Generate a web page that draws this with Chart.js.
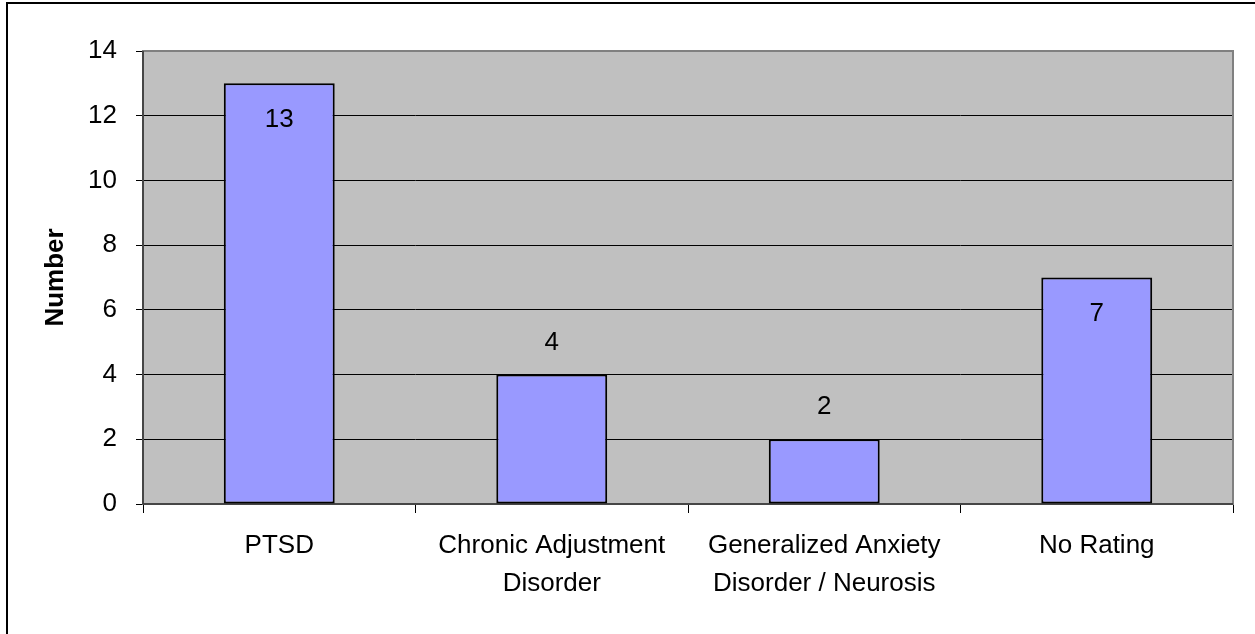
<!DOCTYPE html>
<html>
<head>
<meta charset="utf-8">
<script src="https://cdn.jsdelivr.net/npm/chart.js@4.4.1/dist/chart.umd.min.js"></script>
<style>
  html, body { margin: 0; padding: 0; background: #fff; overflow: hidden; }
  #wrap { position: relative; width: 1255px; height: 634px; }
  #frame { position: absolute; left: 6px; top: 2px; width: 1300px; height: 700px; border: 2px solid #000; pointer-events: none; }
  canvas { position: absolute; left: 0; top: 0; }
</style>
</head>
<body>
<div id="wrap">
  <div id="frame"></div>
  <canvas id="c" width="1255" height="634"></canvas>
</div>
<script>
const categories = [
  ['PTSD'],
  ['Chronic Adjustment', 'Disorder'],
  ['Generalized Anxiety', 'Disorder / Neurosis'],
  ['No Rating']
];
const counts = [13, 4, 2, 7];
const yMin = 0;
const yMax = 14;
const yStep = 2;
const yAxisTitle = 'Number';
const labelPlacement = ['inside', 'outside', 'outside', 'inside'];

const FONT = '"Liberation Sans", Arial, sans-serif';

const plotPlugin = {
  id: 'plotPlugin',
  beforeDraw(chart) {
    const { ctx, chartArea: a } = chart;
    ctx.save();
    ctx.fillStyle = '#C0C0C0';
    ctx.fillRect(a.left, a.top, a.right - a.left, a.bottom - a.top);
    ctx.restore();
  },
  beforeDatasetsDraw(chart) {
    const { ctx, chartArea: a } = chart;
    ctx.save();
    ctx.strokeStyle = '#808080';
    ctx.lineWidth = 2;
    ctx.strokeRect(a.left, a.top, a.right - a.left, a.bottom - a.top);
    ctx.strokeStyle = '#333';
    ctx.lineWidth = 1.5;
    ctx.beginPath();
    ctx.moveTo(a.left, a.top);
    ctx.lineTo(a.left, a.bottom);
    ctx.lineTo(a.right, a.bottom);
    ctx.stroke();
    ctx.restore();
  },
  afterDatasetsDraw(chart) {
    const { ctx } = chart;
    const meta = chart.getDatasetMeta(0);
    ctx.save();
    ctx.fillStyle = '#000';
    ctx.font = '26px ' + FONT;
    ctx.textAlign = 'center';
    ctx.textBaseline = 'middle';
    meta.data.forEach((bar, i) => {
      const inside = labelPlacement[i] === 'inside';
      const y = inside ? bar.y + 36 : bar.y - 32;
      ctx.fillText(String(counts[i]), bar.x, y);
    });
    ctx.restore();
  }
};

new Chart(document.getElementById('c'), {
  type: 'bar',
  data: {
    labels: categories,
    datasets: [{
      data: counts,
      backgroundColor: '#9999FF',
      borderColor: '#000',
      borderWidth: 2,
      borderSkipped: false,
      barPercentage: 0.407,
      categoryPercentage: 1
    }]
  },
  options: {
    responsive: false,
    animation: false,
    devicePixelRatio: 1,
    layout: { padding: { top: 51, right: 22, left: 0, bottom: 0 } },
    plugins: {
      legend: { display: false },
      tooltip: { enabled: false }
    },
    scales: {
      x: {
        grid: { offset: true, drawOnChartArea: false, drawTicks: true, tickLength: 9, color: '#000', lineWidth: 1 },
        border: { display: false },
        ticks: {
          color: '#000',
          font: { family: FONT, size: 26, lineHeight: 1.46 },
          padding: 14,
          maxRotation: 0,
          minRotation: 0,
          autoSkip: false
        },
        afterFit(scale) { scale.height = 130; }
      },
      y: {
        min: yMin,
        max: yMax,
        grid: { color: '#000', lineWidth: 1, tickLength: 7, drawTicks: true },
        border: { display: false },
        ticks: {
          stepSize: yStep,
          color: '#000',
          font: { family: FONT, size: 26 },
          padding: 19
        },
        title: {
          display: true,
          text: yAxisTitle,
          color: '#000',
          font: { family: FONT, size: 26, weight: 'bold' },
          padding: { top: 40, bottom: 0 }
        },
        afterFit(scale) { scale.width = 143; }
      }
    }
  },
  plugins: [plotPlugin]
});
</script>
</body>
</html>
